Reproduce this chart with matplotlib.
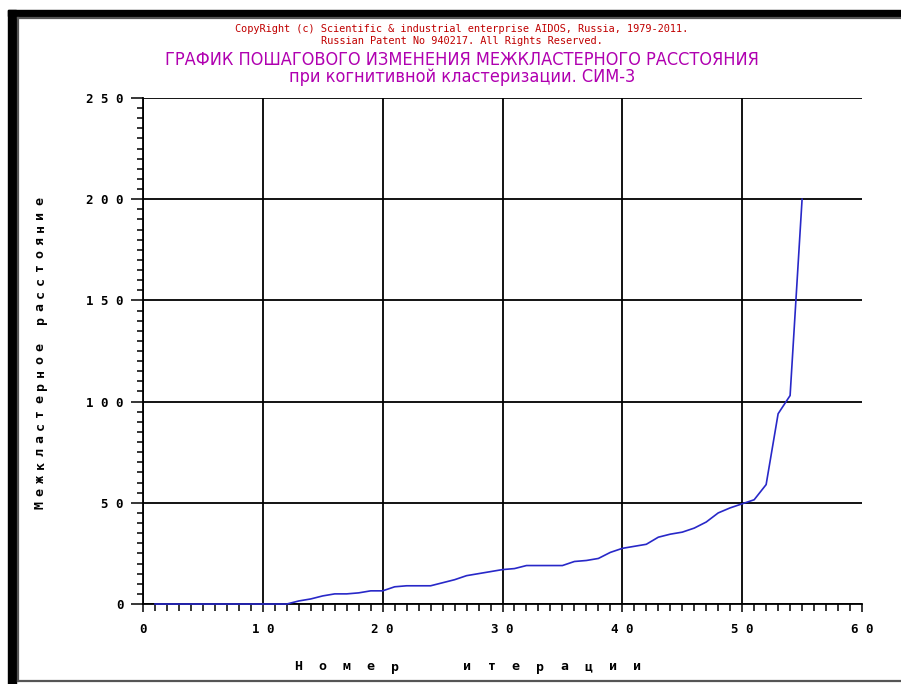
import numpy as np
import matplotlib
matplotlib.use("Agg")
from matplotlib import pyplot as plt
from matplotlib.patches import Rectangle
from matplotlib.lines import Line2D
from matplotlib.ticker import MultipleLocator

# iteration number and inter-cluster distance
iterations = list(range(1, 56))
distance = [0, 0, 0, 0, 0, 0, 0, 0, 0, 0, 0, 0,
            1.5, 2.5, 4, 5, 5, 5.5, 6.5, 6.5,
            8.5, 9, 9, 9, 10.5, 12, 14, 15, 16, 17,
            17.5, 19, 19, 19, 19, 21, 21.5, 22.5, 25.5, 27.5,
            28.5, 29.5, 33, 34.5, 35.5, 37.5, 40.5, 45, 47.5, 49.5,
            51.5, 59, 94, 103, 200]

x_ticks = [0, 10, 20, 30, 40, 50, 60]
y_ticks = [0, 50, 100, 150, 200, 250]

copyright_lines = ["CopyRight (c) Scientific & industrial enterprise AIDOS, Russia, 1979-2011.",
                   "Russian Patent No 940217. All Rights Reserved."]
title_lines = ["ГРАФИК ПОШАГОВОГО ИЗМЕНЕНИЯ МЕЖКЛАСТЕРНОГО РАССТОЯНИЯ",
               "при когнитивной кластеризации. СИМ-3"]
x_label = "Номер  итерации"
y_label = "Межкластерное расстояние"

W, H = 901, 684
fig = plt.figure(figsize=(W / 100, H / 100), dpi=100)
fig.patch.set_facecolor("white")


def px(x, y):
    # pixel coords (from top-left) -> figure fraction
    return x / W, 1 - y / H


def spaced_text(x0, y0, text, pitch, vertical=False, **kw):
    # bitmap-style letter spacing: place each char by hand
    for i, ch in enumerate(text):
        if ch == " ":
            continue
        if vertical:
            fig.text(*px(x0, y0 - i * pitch), ch, ha="center", va="center",
                     rotation=90, **kw)
        else:
            fig.text(*px(x0 + i * pitch, y0), ch, ha="center", va="center", **kw)


# window frame
fig.patches.append(Rectangle((8 / W, 0), 8 / W, 1 - 10 / H, transform=fig.transFigure,
                             color="black", zorder=0))
fig.patches.append(Rectangle((8 / W, 1 - 16 / H), 1, 6 / H, transform=fig.transFigure,
                             color="black", zorder=0))
for (x0, y0, x1, y1) in [(18, 18, 901, 18), (18, 18, 18, 681), (18, 681, 901, 681)]:
    a, b = px(x0, y0)
    c, d = px(x1, y1)
    fig.lines.append(Line2D([a, c], [b, d], transform=fig.transFigure,
                            color="#555555", lw=1.6))

ax = fig.add_axes([143 / W, 1 - 604 / H, 719 / W, 506 / H])
ax.plot(iterations, distance, color="#2828c8", lw=1.2, zorder=3, clip_on=False)

ax.set_xlim(0, 60)
ax.set_ylim(0, 250)
ax.set_xticks(x_ticks)
ax.set_yticks(y_ticks)
ax.xaxis.set_minor_locator(MultipleLocator(1))
ax.yaxis.set_minor_locator(MultipleLocator(5))

ax.grid(True, which="major", color="black", lw=1.3)
ax.get_xgridlines()[-1].set_visible(False)
ax.set_axisbelow(True)
for s in ["right", "top"]:
    ax.spines[s].set_visible(False)
for s in ["left", "bottom"]:
    ax.spines[s].set_linewidth(1.3)

tick_font = dict(family="DejaVu Sans Mono", weight="bold", size=9)
ax.tick_params(axis="x", which="major", direction="out", length=5.5, width=1.1, pad=8)
ax.tick_params(axis="x", which="minor", direction="out", length=5, width=1.1)
ax.tick_params(axis="y", which="major", direction="out", length=9, width=1.1, pad=5)
ax.tick_params(axis="y", which="minor", direction="out", length=4.5, width=1.1)
ax.set_xticklabels([" ".join(str(t)) for t in x_ticks], fontdict=tick_font)
ax.set_yticklabels([" ".join(str(t)) for t in y_ticks], fontdict=tick_font)

label_font = dict(family="DejaVu Sans Mono", weight="bold", fontsize=9.5)
spaced_text(298, 667, x_label, 24.2, **label_font)
spaced_text(40, 505, y_label, 13.2, vertical=True, **label_font)

fig.text(*px(462, 29), copyright_lines[0], ha="center", va="center",
         color="#c00000", fontsize=7.4, family="DejaVu Sans Mono")
fig.text(*px(462, 41), copyright_lines[1], ha="center", va="center",
         color="#c00000", fontsize=7.4, family="DejaVu Sans Mono")
fig.text(*px(462, 60), title_lines[0], ha="center", va="center",
         color="#b000b0", fontsize=13, fontstretch="condensed")
fig.text(*px(462, 77), title_lines[1], ha="center", va="center",
         color="#b000b0", fontsize=13, fontstretch="condensed")

fig.savefig("out.png", dpi=100)
